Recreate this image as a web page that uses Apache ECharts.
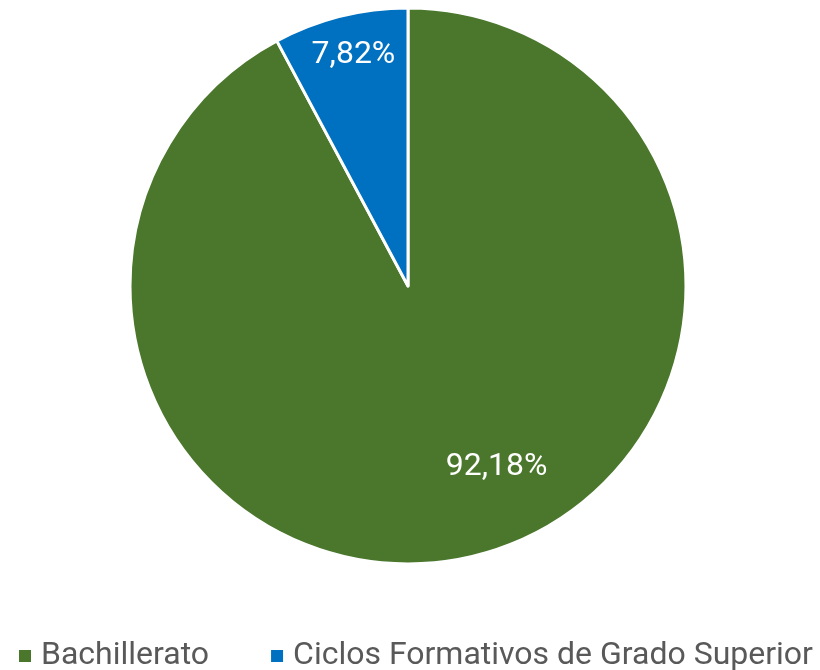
<!DOCTYPE html>
<html><head><meta charset="utf-8">
<script src="https://cdn.jsdelivr.net/npm/echarts@6/dist/echarts.min.js"></script>
<style>html,body{margin:0;padding:0;background:#fff}#c{width:820px;height:670px}</style>
</head><body><div id="c"></div>
<script>
const categories = ['Bachillerato', 'Ciclos Formativos de Grado Superior'];
const values = [92.18, 7.82];
const colors = ['#4A772B', '#0070C0'];
const labelShift = [[54, 43], [-20, -93]];

const chart = echarts.init(document.getElementById('c'), null, {renderer: 'canvas'});
chart.setOption({
  animation: false,
  color: colors,
  legend: {
    top: 635,
    left: 12,
    padding: 5,
    itemWidth: 14,
    itemHeight: 14,
    itemGap: 60,
    icon: 'rect',
    textStyle: {fontFamily: 'Roboto', fontSize: 32, color: '#595959', padding: [0, 0, 0, 4]},
    data: categories
  },
  series: [{
    type: 'pie',
    center: [408, 286],
    radius: 278,
    startAngle: 90,
    clockwise: true,
    itemStyle: {borderColor: '#fff', borderWidth: 3},
    label: {
      position: 'inside',
      formatter: p => p.value.toFixed(2).replace('.', ',') + '%',
      color: '#fff',
      fontFamily: 'Roboto',
      fontSize: 32
    },
    labelLine: {show: false},
    emphasis: {disabled: true},
    labelLayout: p => ({dx: labelShift[p.dataIndex][0], dy: labelShift[p.dataIndex][1]}),
    data: categories.map((c, i) => ({name: c, value: values[i]}))
  }]
});
</script></body></html>
